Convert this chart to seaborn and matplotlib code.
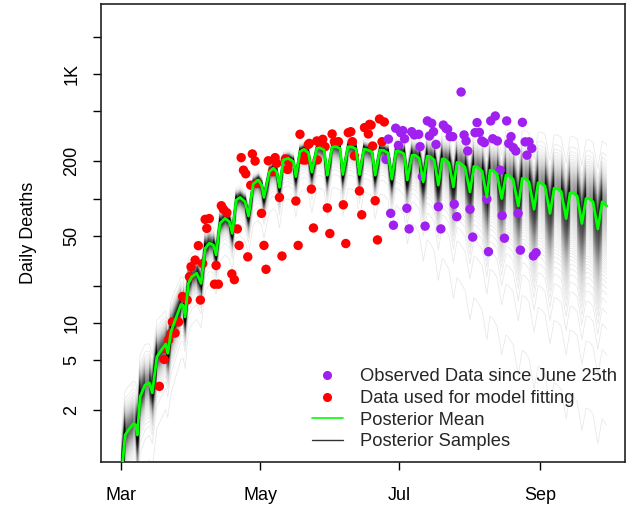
import numpy as np
import pandas as pd
import matplotlib
matplotlib.use("Agg")
import matplotlib.pyplot as plt
from matplotlib.lines import Line2D
from matplotlib.ticker import NullLocator
import seaborn as sns

# ---- data (days since 1 March 2020) ----
mean_day = [0, 1.76, 3.2, 5.4, 6.45, 7.15,
            8.34, 10.5, 12.4, 13.7,
            15.7, 17.9, 19.6, 20.5,
            21.9, 23.7, 26.3, 27.3, 28.1,
            29.5, 31.0, 33.2, 35.1,
            36.9, 38.7, 40.5, 41.7,
            43.4, 45.6, 47.5, 48.8,
            50.5, 52.2, 54.4, 55.9,
            58.0, 60.2, 61.7, 62.7,
            65.1, 66.8, 68.3, 69.5,
            71.2, 73.4, 75.6, 76.7,
            78.5, 80.3, 82.2, 83.7,
            85.9, 87.3, 89.1, 90.5,
            92.6, 94.3, 96.1, 97.3,
            99.6, 101.4, 103.1, 104.6,
            106.6, 108.4, 110.1, 111.5,
            113.6, 115.4, 117.1, 118.8,
            120.7, 122.4, 124.2, 125.6,
            127.7, 129.0, 130.8, 132.6,
            134.3, 135.6, 137.4, 139.2,
            140.9, 142.2, 143.9, 145.8,
            147.4, 148.8, 150.9, 153.1,
            154.8, 156.2, 158.4, 160.5,
            161.9, 163.2, 165.0, 167.0,
            168.9, 170.2, 172.0, 174.3,
            176.0, 177.3, 179.0, 181.2,
            183.0, 184.3, 186.0, 188.2,
            190.0, 191.3, 193.1, 195.3,
            197.0, 198.3, 200.1, 202.2,
            204.0, 205.4, 207.1, 209.2,
            211.1, 213.1]
mean_val = [0.55, 1.26, 1.38, 1.55, 1.52, 1.26,
            2.56, 3.18, 3.31, 2.75,
            5.36, 6.15, 6.78, 5.71,
            8.5, 10.5, 14.1, 13.9, 11.2,
            20.8, 23.5, 25.1, 20.8,
            39.8, 43.7, 42.3, 35.2,
            63.2, 69.3, 65.2, 52.5,
            97.2, 102, 94.2, 72.3,
            131, 141, 128, 102,
            164, 175, 164, 123,
            204, 210, 198, 150,
            238, 248, 233, 163,
            253, 255, 245, 154,
            259, 261, 252, 156,
            261, 259, 250, 156,
            250, 245, 236, 154,
            245, 243, 232, 143,
            241, 238, 228, 141,
            223, 223, 211, 136,
            219, 217, 204, 128,
            208, 206, 193, 124,
            195, 193, 179, 113,
            181, 179, 166, 103,
            169, 168, 157, 100,
            154, 153, 143, 87,
            145, 145, 136, 82,
            134, 133, 126, 76,
            121, 120, 114, 69,
            111, 111, 105, 63,
            100, 100, 94, 57,
            94, 87]

fit_day = [16.8, 18.9, 19.6, 20.8, 22.0, 23.7, 22.5, 25.2, 27.0, 29.0, 30.0, 34.8,
           30.7, 32.5, 35.8, 41.7, 41.0, 42.7, 48.6, 49.7, 33.9, 37.6, 36.9, 38.7,
           44.0, 44.9, 46.4, 51.0, 51.8, 55.6, 63.6, 62.7, 61.6, 70.6, 77.7, 84.4,
           83.5, 69.5, 76.7, 52.7, 53.7, 54.7, 57.6, 58.8, 56.9, 59.8, 64.6, 67.6,
           68.3, 66.5, 72.1, 73.9, 73.1, 78.5, 82.2, 80.3, 81.0, 79.9, 85.9, 86.1,
           82.6, 88.5, 89.5, 87.3, 90.5, 91.6, 92.6, 93.6, 95.4, 97.5, 98.6, 99.7,
           100.8, 101.5, 102.4, 104.6, 105.6, 106.8, 109.0, 109.7, 108.5, 110.4,
           111.5, 112.5, 113.4, 115.5, 114.5]
fit_val = [3.1, 5.1, 6.2, 7.3, 8.3, 8.3, 10.2, 10.2, 16.3, 15.3, 23.5, 15.3,
           28.3, 32, 30, 29, 20.5, 20.5, 24.8, 22.3, 41.8, 57.6, 68, 69,
           87.5, 82, 77, 57, 42, 34, 27, 42, 76, 34.5, 42, 58,
           119, 102, 95.5, 213, 169, 158, 228, 200, 128, 132, 201, 213,
           192, 164, 208, 194, 171, 328, 272, 233, 204, 204, 290, 204,
           277, 299, 261, 277, 84, 52.3, 330, 286, 286, 89, 43.5, 338,
           344, 286, 220, 115, 74, 371, 394, 389, 330, 264,
           96, 46.5, 435, 412, 286]

obs_day = [116.3, 117.3, 118.3, 119.5, 120.5, 121.7, 122.7, 123.6, 124.4, 125.4,
           126.4, 127.5, 128.7, 130.6, 131.2, 132.2, 133.4, 134.4, 136.3, 135.3,
           137.1, 138.2, 139.2, 140.3, 141.4, 142.6, 143.3, 144.4, 145.5, 146.2,
           147.3, 149.2, 150.5, 151.4, 152.1, 153.1, 154.3, 156.2, 155.3, 157.2,
           158.3, 159.4, 160.5, 161.2, 162.2, 164.2, 163.1, 165.1, 166.3, 167.2,
           168.2, 169.2, 171.1, 170.1, 172.1, 173.2, 174.2, 175.2, 176.1, 177.3,
           179.0, 180.2, 178.1, 180.9, 182.1]
obs_val = [206, 300, 76, 61, 367, 267, 338, 351, 302, 83.5,
           57, 344, 324, 328, 261, 150, 60, 420, 402, 318,
           344, 272, 86, 57, 389, 366, 360, 314, 314, 90,
           71.5, 717, 324, 290, 241, 82, 49, 407, 338, 340,
           290, 281, 99, 37.4, 420, 460, 302, 290, 169, 73,
           48, 420, 314, 277, 256, 241, 76, 38.5, 409, 285,
           285, 253, 223, 34.6, 36.7]

# spread of posterior samples around the mean (log10 units per unit z)
spread_day = [0, 10, 20, 30, 45, 60, 90, 116, 130, 150, 170, 190, 213]
spread_up = [0.11, 0.10, 0.08, 0.06, 0.035, 0.022, 0.02, 0.025, 0.05, 0.08, 0.11, 0.13, 0.15]
spread_lo = [0.11, 0.10, 0.08, 0.06, 0.045, 0.05, 0.05, 0.055, 0.09, 0.15, 0.2, 0.24, 0.27]

tick_dates = ["2020-03-01", "2020-05-01", "2020-07-01", "2020-09-01"]
tick_names = ["Mar", "May", "Jul", "Sep"]
ytick_vals = [2, 5, 10, 20, 50, 100, 200, 500, 1000, 2000]
ytick_labs = ["2", "5", "10", "", "50", "", "200", "", "1K", ""]

# ---- posterior sample lines (deterministic quantile fan) ----
N = 200
p = (np.arange(N) + 0.5) / N
z = 0.55 * np.log(p / (1 - p))
md = np.array(mean_day, float)
mv = np.array(mean_val, float)
su = np.interp(md, spread_day, spread_up)
sl = np.interp(md, spread_day, spread_lo)
frames = []
for k, zk in enumerate(z):
    if zk >= 0:
        off = su * zk
    else:
        off = sl * (zk + 0.09 * zk ** 3)
    frames.append(pd.DataFrame({"day": md, "val": mv * 10 ** off, "sample": k}))
samples = pd.concat(frames, ignore_index=True)

sns.set_theme(style="white")
plt.rcParams["font.family"] = ["Liberation Sans", "DejaVu Sans"]

fig = plt.figure(figsize=(6.29, 5.13), dpi=100)
ax = fig.add_axes([0.1606, 0.0994, 0.8330, 0.8928])

sns.lineplot(data=samples, x="day", y="val", units="sample", estimator=None,
             color="black", alpha=0.09, lw=0.6, ax=ax, legend=False, sort=False)
sns.scatterplot(x=fit_day, y=fit_val, color="#FF0000", s=46, edgecolor="none",
                ax=ax, zorder=3, legend=False)
sns.scatterplot(x=obs_day, y=obs_val, color="#A020F0", s=46, edgecolor="none",
                ax=ax, zorder=3, legend=False)
sns.lineplot(x=mean_day, y=mean_val, color="#00FF00", lw=2.0, ax=ax,
             estimator=None, sort=False, zorder=4, legend=False)

ax.set_yscale("log")
ax.set_xlim(-8.8, 221.1)
ax.set_ylim(0.765, 3650)
ax.set_yticks(ytick_vals)
ax.set_yticklabels(ytick_labs)
ax.yaxis.set_minor_locator(NullLocator())
base = pd.Timestamp("2020-03-01")
ax.set_xticks([(pd.Timestamp(d) - base).days for d in tick_dates])
ax.set_xticklabels(tick_names)
for lab in ax.get_yticklabels():
    lab.set_rotation(90)
    lab.set_va("center")
ax.tick_params(axis="both", direction="out", length=6, width=1, color="black",
               labelsize=13, labelcolor="black", left=True, bottom=True)
ax.tick_params(axis="x", pad=12)
ax.tick_params(axis="y", pad=9)
ax.set_xlabel("")
ax.set_ylabel("Daily Deaths", fontsize=13, color="black")
ax.yaxis.set_label_coords(-0.122, 0.5)
for s in ax.spines.values():
    s.set_color("#222222")
    s.set_linewidth(1.2)

handles = [Line2D([], [], marker="o", ls="none", color="#A020F0", markersize=5.5),
           Line2D([], [], marker="o", ls="none", color="#FF0000", markersize=5.5),
           Line2D([], [], color="#00FF00", lw=1.2),
           Line2D([], [], color="#333333", lw=1.0)]
labels = ["Observed Data since June 25th", "Data used for model fitting",
          "Posterior Mean", "Posterior Samples"]
ax.legend(handles, labels, loc="lower right", bbox_to_anchor=(0.985, 0.026),
          frameon=False, fontsize=13.2, handlelength=1.7, handletextpad=0.95,
          labelspacing=0.25, borderpad=0, borderaxespad=0)

fig.savefig("out.png", dpi=100)
